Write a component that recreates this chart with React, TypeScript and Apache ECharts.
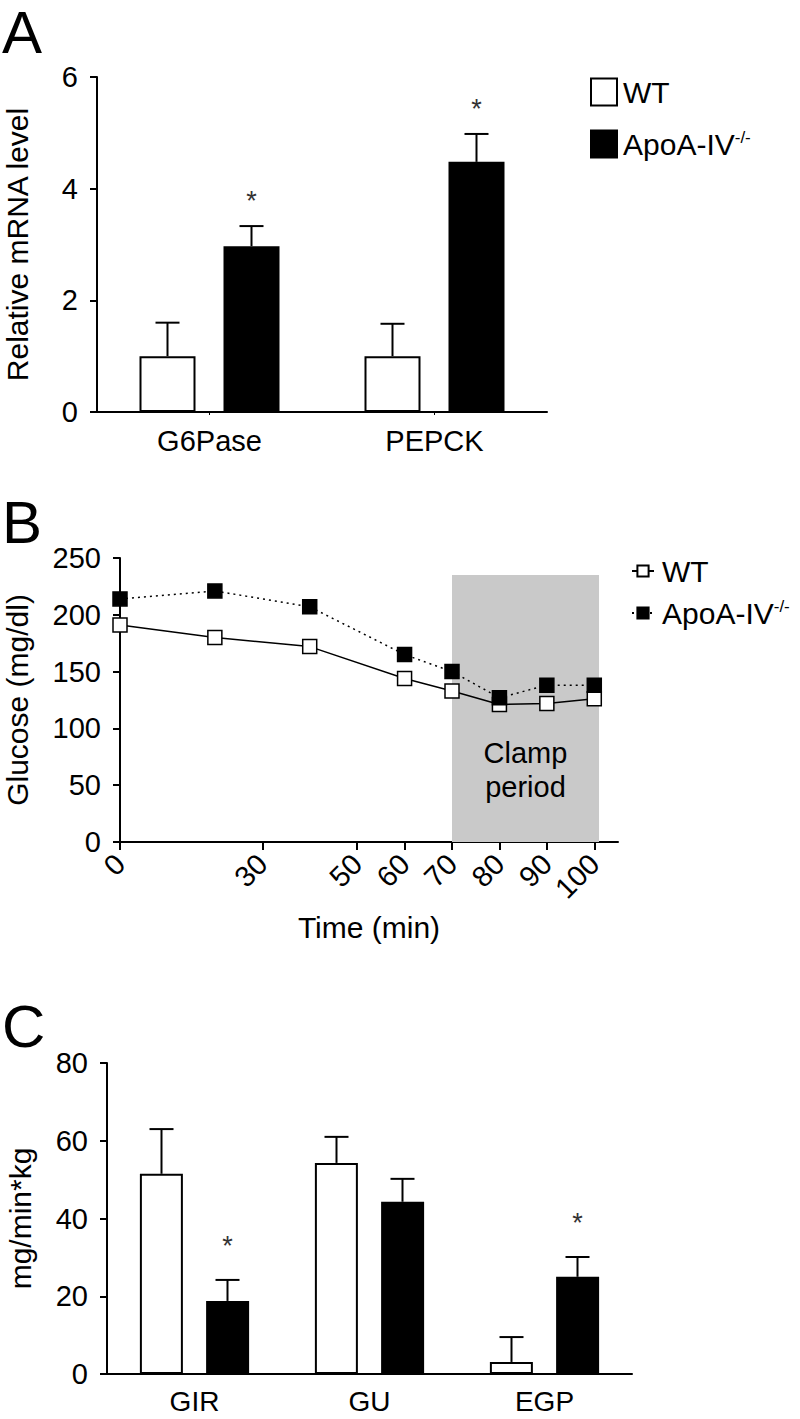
import React, { useEffect, useRef } from 'react';
import * as echarts from 'echarts';

// ---------- data ----------
const seriesNames = ['WT', 'ApoA-IV-/-'];

// Panel A
const catsA = ['G6Pase', 'PEPCK'];
const wtA = [1.0, 1.0];
const wtAErr = [0.6, 0.58];
const koA = [2.97, 4.48];
const koAErr = [0.36, 0.5];
const sigA = [1, 1];
const yTicksA = [0, 2, 4, 6];

// Panel B
const timeB = [0, 20, 40, 60, 70, 80, 90, 100];
const wtB = [191, 180, 172, 144, 133, 121, 122, 126];
const koB = [214, 221, 207, 165, 150, 127, 138, 138];
const xTicksB = [0, 30, 50, 60, 70, 80, 90, 100];
const clampStart = 70;
const clampEnd = 101;
const clampTop = 235;

// Panel C
const catsC = ['GIR', 'GU', 'EGP'];
const wtC = [51.5, 54.3, 3.1];
const wtCErr = [11.5, 6.7, 6.4];
const koC = [18.8, 44.3, 25];
const koCErr = [5.4, 5.9, 5.1];
const sigC = [1, 0, 1];

const FONT = 'Liberation Sans, Arial, sans-serif';

function errorSeries(
  axisIdx: number,
  means: number[],
  errs: number[],
  sig: number[],
  offset: number,
  cap: number,
  starGap: number
) {
  return {
    type: 'custom',
    xAxisIndex: axisIdx,
    yAxisIndex: axisIdx,
    z: 5,
    silent: true,
    data: means.map((m, i) => [i, m, m + errs[i], sig[i]]),
    renderItem: (params: any, api: any) => {
      const base = api.coord([api.value(0), api.value(1)]);
      const top = api.coord([api.value(0), api.value(2)]);
      const x = base[0] + offset;
      const children: any[] = [
        { type: 'line', shape: { x1: x, y1: base[1], x2: x, y2: top[1] }, style: { stroke: '#000', lineWidth: 2 } },
        { type: 'line', shape: { x1: x - cap / 2, y1: top[1], x2: x + cap / 2, y2: top[1] }, style: { stroke: '#000', lineWidth: 2 } },
      ];
      if (api.value(3)) {
        children.push({
          type: 'text',
          x,
          y: top[1] - starGap,
          style: { text: '*', fontSize: 27, fill: '#333', align: 'center', verticalAlign: 'middle', fontFamily: FONT },
        });
      }
      return { type: 'group', children };
    },
  };
}

function valueAxisCommon() {
  return {
    axisLine: { show: true, lineStyle: { color: '#000', width: 2 } },
    axisTick: { show: true, length: 7, lineStyle: { color: '#000', width: 2 } },
    axisLabel: { color: '#000', fontSize: 29, fontFamily: FONT, margin: 19 },
    splitLine: { show: false },
    nameTextStyle: { color: '#000', fontSize: 30, fontFamily: FONT },
    nameLocation: 'middle',
  };
}

export default function App() {
  const ref = useRef<HTMLDivElement>(null);
  useEffect(() => {
    document.body.style.margin = '0';
    const chart = echarts.init(ref.current!, null, { renderer: 'svg' });
    const legendFormatter = (name: string) => {
      const n = name.trim();
      return n === 'ApoA-IV-/-' ? 'ApoA-IV{sup|-/-}' : n;
    };
    const legendText = {
      color: '#000',
      fontSize: 30,
      fontFamily: FONT,
      padding: [0, 0, 0, 1],
      rich: { sup: { fontSize: 17, fontFamily: FONT, color: '#000', verticalAlign: 'top', padding: [0, 0, 10, 0] } },
    };
    const option: any = {
      animation: false,
      backgroundColor: '#fff',
      textStyle: { fontFamily: FONT },
      grid: [
        { left: 97, top: 77, width: 450, height: 335, containLabel: false, outerBoundsMode: 'none' },
        { left: 120, top: 558, width: 498, height: 284, containLabel: false, outerBoundsMode: 'none' },
        { left: 107, top: 1063, width: 525, height: 311, containLabel: false, outerBoundsMode: 'none' },
      ],
      legend: [
        {
          orient: 'vertical',
          left: 585,
          top: 72,
          itemWidth: 26,
          itemHeight: 27,
          itemGap: 22,
          data: [
            { name: seriesNames[0], icon: 'rect' },
            { name: seriesNames[1], icon: 'rect' },
          ],
          formatter: legendFormatter,
          textStyle: legendText,
          selectedMode: false,
        },
        {
          orient: 'vertical',
          left: 626,
          top: 551,
          itemWidth: 22,
          itemHeight: 14,
          itemGap: 12,
          data: [seriesNames[0] + ' ', seriesNames[1] + ' '],
          formatter: legendFormatter,
          textStyle: { ...legendText, padding: [0, 0, 0, 3] },
          selectedMode: false,
        },
      ],
      xAxis: [
        {
          type: 'category',
          gridIndex: 0,
          data: catsA,
          axisLine: { lineStyle: { color: '#000', width: 2 } },
          axisTick: { show: true, alignWithLabel: true, length: 3, lineStyle: { color: '#000', width: 1 } },
          axisLabel: { color: '#000', fontSize: 29, fontFamily: FONT, margin: 14 },
          splitLine: { show: false },
        },
        {
          type: 'value',
          gridIndex: 1,
          min: 0,
          max: 105,
          name: 'Time (min)',
          nameGap: 70,
          ...valueAxisCommon(),
          axisTick: { show: true, length: 8, customValues: xTicksB, lineStyle: { color: '#000', width: 2 } },
          axisLabel: { color: '#000', fontSize: 29, fontFamily: FONT, margin: 17, rotate: 45, customValues: xTicksB },
        },
        {
          type: 'category',
          gridIndex: 2,
          data: catsC,
          axisLine: { lineStyle: { color: '#000', width: 2 } },
          axisTick: { show: false },
          axisLabel: { color: '#000', fontSize: 28, fontFamily: FONT, margin: 13 },
          splitLine: { show: false },
        },
      ],
      yAxis: [
        {
          type: 'value',
          gridIndex: 0,
          min: yTicksA[0],
          max: yTicksA[yTicksA.length - 1],
          interval: 2,
          name: 'Relative mRNA level',
          nameGap: 65,
          ...valueAxisCommon(),
        },
        {
          type: 'value',
          gridIndex: 1,
          min: 0,
          max: 250,
          interval: 50,
          name: 'Glucose (mg/dl)',
          nameGap: 88,
          ...valueAxisCommon(),
        },
        {
          type: 'value',
          gridIndex: 2,
          min: 0,
          max: 80,
          interval: 20,
          name: 'mg/min*kg',
          nameGap: 72,
          ...valueAxisCommon(),
        },
      ],
      series: [
        // Panel A bars
        {
          type: 'bar',
          name: seriesNames[0],
          xAxisIndex: 0,
          yAxisIndex: 0,
          data: wtA,
          barWidth: 56,
          barGap: '50%',
          itemStyle: { color: '#fff', borderColor: '#000', borderWidth: 2 },
        },
        {
          type: 'bar',
          name: seriesNames[1],
          xAxisIndex: 0,
          yAxisIndex: 0,
          data: koA,
          barWidth: 56,
          barGap: '50%',
          itemStyle: { color: '#000', borderColor: '#000', borderWidth: 2 },
        },
        errorSeries(0, wtA, wtAErr, [0, 0], -42, 24, 25),
        errorSeries(0, koA, koAErr, sigA, 42, 24, 25),
        // Panel B lines
        {
          type: 'line',
          name: seriesNames[0] + ' ',
          xAxisIndex: 1,
          yAxisIndex: 1,
          data: timeB.map((t, i) => [t, wtB[i]]),
          symbol: 'rect',
          symbolSize: 14,
          lineStyle: { color: '#000', width: 1.5 },
          itemStyle: { color: '#fff', borderColor: '#000', borderWidth: 1.5 },
          z: 3,
          markArea: {
            silent: true,
            itemStyle: { color: '#c9c9c9' },
            label: {
              show: true,
              position: 'insideBottom',
              distance: 38,
              formatter: 'Clamp\nperiod',
              color: '#000',
              fontSize: 29,
              lineHeight: 34,
              fontFamily: FONT,
            },
            data: [[{ xAxis: clampStart, yAxis: 0 }, { xAxis: clampEnd, yAxis: clampTop }]],
          },
        },
        {
          type: 'line',
          name: seriesNames[1] + ' ',
          xAxisIndex: 1,
          yAxisIndex: 1,
          data: timeB.map((t, i) => [t, koB[i]]),
          symbol: 'rect',
          symbolSize: 14,
          lineStyle: { color: '#000', width: 1.5, type: [2, 4] },
          itemStyle: { color: '#000', borderColor: '#000', borderWidth: 1.5 },
          z: 4,
        },
        // Panel C bars
        {
          type: 'bar',
          name: seriesNames[0],
          xAxisIndex: 2,
          yAxisIndex: 2,
          data: wtC,
          barWidth: 43,
          barGap: '54%',
          itemStyle: { color: '#fff', borderColor: '#000', borderWidth: 2 },
        },
        {
          type: 'bar',
          name: seriesNames[1],
          xAxisIndex: 2,
          yAxisIndex: 2,
          data: koC,
          barWidth: 43,
          barGap: '54%',
          itemStyle: { color: '#000', borderColor: '#000', borderWidth: 2 },
        },
        errorSeries(2, wtC, wtCErr, [0, 0, 0], -33, 24, 34),
        errorSeries(2, koC, koCErr, sigC, 33, 24, 34),
      ],
      graphic: [
        { type: 'text', left: 2, top: 2, style: { text: 'A', fontSize: 60, fontFamily: FONT, fill: '#000' } },
        { type: 'text', left: 2, top: 492, style: { text: 'B', fontSize: 60, fontFamily: FONT, fill: '#000' } },
        { type: 'text', left: 2, top: 996, style: { text: 'C', fontSize: 60, fontFamily: FONT, fill: '#000' } },
      ],
    };
    chart.setOption(option);
    return () => chart.dispose();
  }, []);
  return <div ref={ref} style={{ width: 800, height: 1419 }} />;
}
